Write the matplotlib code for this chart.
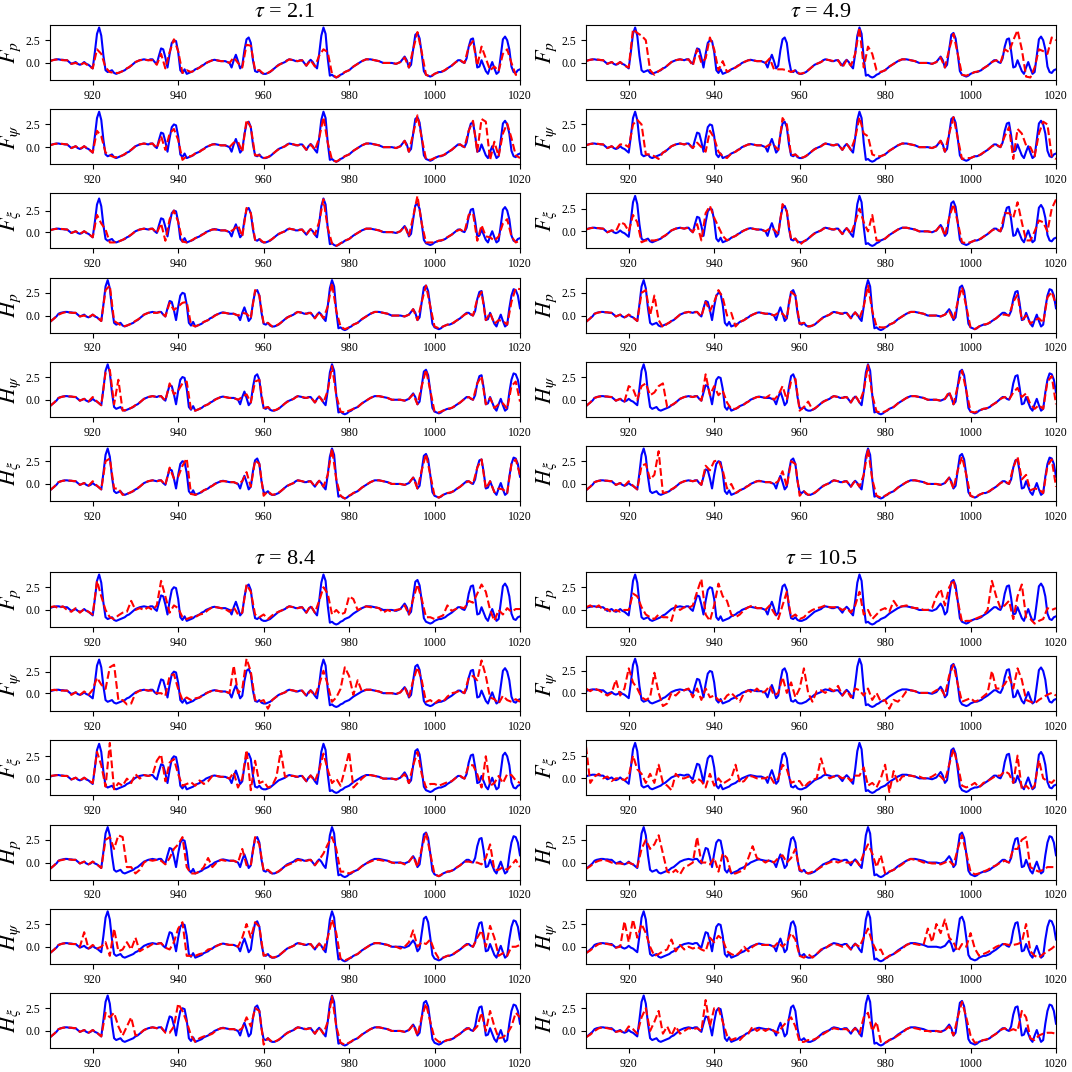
import numpy as np
import matplotlib
matplotlib.use('Agg')
import matplotlib.pyplot as plt
from matplotlib.ticker import MultipleLocator

plt.rcParams['font.family'] = 'serif'
plt.rcParams['font.serif'] = ['Liberation Serif', 'DejaVu Serif']
plt.rcParams['mathtext.fontset'] = 'stix'

# true signals, sampled every 0.5 from 910 to 1020
F_TRUE = [
    0.2, 0.3, 0.35, 0.4, 0.4, 0.35, 0.35, 0.3, 0.3, 0.1, -0.1, 0.0, 0.1, -0.1, -0.2, -0.1, 0.1, -0.1, -0.2, -0.4,
    -0.6, 1.2, 3.2, 3.9, 3.0, 0.8, -0.8, -1.0, -0.9, -0.8, -1.1, -1.2, -1.1, -1.0, -0.9, -0.8, -0.6, -0.5, -0.3, -0.1,
    0.1, 0.2, 0.3, 0.35, 0.4, 0.35, 0.3, 0.4, 0.4, 0.1, -0.1, 0.8, 1.6, 1.5, 0.6, -0.5, 1.0, 2.2, 2.5, 2.4,
    1.2, -0.8, -1.1, -0.7, -1.2, -1.1, -1.0, -0.9, -0.7, -0.6, -0.5, -0.3, -0.2, 0.0, 0.1, 0.2, 0.3, 0.35, 0.3, 0.25,
    0.2, 0.2, 0.2, 0.1, 0.0, -0.5, 0.3, 0.9, 0.2, -0.6, -0.3, 1.4, 2.6, 2.8, 2.2, 0.3, -0.9, -1.0, -0.8, -1.1,
    -1.2, -1.2, -1.1, -1.0, -0.8, -0.6, -0.4, -0.2, -0.1, 0.0, 0.1, 0.3, 0.4, 0.35, 0.3, 0.2, 0.2, 0.3, 0.3, 0.0,
    -0.3, 0.1, 0.35, 0.1, -0.3, -0.6, 1.0, 3.0, 3.9, 3.2, 0.5, -1.4, -1.3, -1.5, -1.6, -1.5, -1.3, -1.2, -1.0, -0.9,
    -0.8, -0.6, -0.4, -0.25, -0.1, 0.05, 0.2, 0.3, 0.4, 0.4, 0.4, 0.35, 0.3, 0.25, 0.2, 0.1, 0.0, 0.0, 0.0, 0.0,
    0.0, -0.05, -0.1, 0.0, 0.1, 0.4, 0.7, 0.3, -0.5, -0.2, 1.5, 3.1, 3.3, 2.7, 1.0, -0.9, -1.3, -1.4, -1.5, -1.4,
    -1.2, -1.1, -1.0, -1.0, -0.9, -0.8, -0.6, -0.45, -0.3, -0.1, 0.1, 0.3, 0.3, 0.1, 0.0, 0.5, 1.8, 2.6, 2.7, 1.3,
    -0.5, -0.4, 0.3, -0.3, -0.9, -1.2, -0.5, 0.1, -0.6, -1.2, -1.0, 0.8, 2.6, 2.9, 2.5, 1.5, -0.4, -1.0, -1.1, -0.8, -0.7,
]
H_TRUE = [
    -0.7, -0.5, -0.3, -0.1, 0.2, 0.3, 0.35, 0.4, 0.4, 0.35, 0.35, 0.3, 0.3, 0.1, -0.1, 0.0, 0.1, -0.1, -0.2, -0.1,
    0.1, -0.1, -0.2, -0.4, -0.6, 1.2, 3.2, 3.9, 3.0, 0.8, -0.8, -1.0, -0.9, -0.8, -1.1, -1.2, -1.1, -1.0, -0.9, -0.8,
    -0.6, -0.5, -0.3, -0.1, 0.1, 0.2, 0.3, 0.35, 0.4, 0.35, 0.3, 0.4, 0.4, 0.1, -0.1, 0.8, 1.6, 1.5, 0.6, -0.5,
    1.0, 2.2, 2.5, 2.4, 1.2, -0.8, -1.1, -0.7, -1.2, -1.1, -1.0, -0.9, -0.7, -0.6, -0.5, -0.3, -0.2, 0.0, 0.1, 0.2,
    0.3, 0.35, 0.3, 0.25, 0.2, 0.2, 0.2, 0.1, 0.0, -0.5, 0.3, 0.9, 0.2, -0.6, -0.3, 1.4, 2.6, 2.8, 2.2, 0.3,
    -0.9, -1.0, -0.8, -1.1, -1.2, -1.2, -1.1, -1.0, -0.8, -0.6, -0.4, -0.2, -0.1, 0.0, 0.1, 0.3, 0.4, 0.35, 0.3, 0.2,
    0.2, 0.3, 0.3, 0.0, -0.3, 0.1, 0.35, 0.1, -0.3, -0.6, 1.0, 3.0, 3.9, 3.2, 0.5, -1.4, -1.3, -1.5, -1.6, -1.5,
    -1.3, -1.2, -1.0, -0.9, -0.8, -0.6, -0.4, -0.25, -0.1, 0.05, 0.2, 0.3, 0.4, 0.4, 0.4, 0.35, 0.3, 0.25, 0.2, 0.1,
    0.0, 0.0, 0.0, 0.0, 0.0, -0.05, -0.1, 0.0, 0.1, 0.4, 0.7, 0.3, -0.5, -0.2, 1.5, 3.1, 3.3, 2.7, 1.0, -0.9,
    -1.3, -1.4, -1.5, -1.4, -1.2, -1.1, -1.0, -1.0, -0.9, -0.8, -0.6, -0.45, -0.3, -0.1, 0.1, 0.3, 0.3, 0.1, 0.0, 0.5,
    1.8, 2.6, 2.7, 1.3, -0.5, -0.4, 0.3, -0.3, -0.9, -1.2, -0.5, 0.1, -0.6, -1.2, -1.0, 0.8, 2.2, 2.9, 2.8, 2.2, 0.8,
]

# predictions, sampled every 1.0 from 910 to 1020
R21_FP = [
    0.2, 0.35, 0.4, 0.3, 0.3, -0.1, 0.0, -0.2, 0.0, -0.3,
    -0.6, 1.5, 1.0, -0.5, -1.0, -1.1, -1.1, -0.9, -0.6, -0.3,
    0.1, 0.3, 0.35, 0.3, 0.3, -0.2, 1.0, -0.6, 1.2, 2.6,
    1.3, -1.1, -0.8, -1.0, -0.8, -0.5, -0.2, 0.1, 0.3, 0.3,
    0.2, 0.2, 0.0, 0.6, 0.0, -0.5, 2.0, 1.9, -0.8, -0.8,
    -1.2, -1.1, -0.8, -0.4, -0.1, 0.1, 0.4, 0.3, 0.2, 0.3,
    -0.3, 0.3, -0.4, 0.8, 1.5, 1.2, -1.2, -1.6, -1.3, -1.0,
    -0.8, -0.4, -0.1, 0.2, 0.4, 0.4, 0.3, 0.2, 0.0, 0.0,
    0.0, -0.1, 0.1, 0.6, -0.5, 1.5, 3.4, 1.2, -1.3, -1.5,
    -1.2, -1.0, -0.9, -0.6, -0.3, 0.1, 0.3, 0.0, 1.8, 2.4,
    -0.3, 1.8, 0.5, -0.8, -0.4, -0.9, 1.0, 1.5, 0.0, -1.3, -1.4,
]
R21_FPSI = [
    0.2, 0.35, 0.4, 0.35, 0.3, -0.1, 0.1, -0.2, 0.1, -0.2,
    -0.6, 1.8, 1.2, -0.6, -0.9, -1.1, -1.1, -0.9, -0.6, -0.3,
    0.1, 0.3, 0.4, 0.3, 0.4, -0.1, 1.2, -0.3, 1.5, 2.0,
    0.8, -1.4, -1.0, -1.0, -0.7, -0.5, -0.2, 0.1, 0.3, 0.3,
    0.2, 0.2, 0.0, 0.5, 0.6, -0.5, 3.0, 2.2, -0.9, -0.9,
    -1.2, -1.1, -0.8, -0.4, -0.1, 0.1, 0.4, 0.3, 0.2, 0.3,
    -0.3, 0.3, -0.3, 1.0, 3.3, 0.5, -1.4, -1.6, -1.3, -1.0,
    -0.8, -0.4, -0.1, 0.2, 0.4, 0.4, 0.3, 0.2, 0.0, 0.0,
    0.0, -0.1, 0.1, 0.7, -0.5, 1.5, 3.5, 1.0, -1.3, -1.4,
    -1.2, -1.0, -0.9, -0.6, -0.3, 0.1, 0.3, 0.0, 1.8, 2.9,
    -0.5, 3.1, 2.8, -1.4, 0.6, -1.0, 1.5, 2.6, 1.0, -0.9, -1.2,
]
R21_FXI = [
    0.2, 0.35, 0.4, 0.35, 0.3, -0.1, 0.1, -0.2, 0.1, -0.2,
    -0.6, 2.0, 1.0, 0.3, -1.2, -1.2, -1.1, -0.9, -0.6, -0.3,
    0.1, 0.3, 0.4, 0.3, 0.4, -0.1, 1.0, -1.0, 1.5, 2.5,
    1.2, -1.1, -1.2, -1.0, -0.7, -0.5, -0.2, 0.1, 0.3, 0.3,
    0.2, 0.2, 0.0, 0.3, 0.8, -0.5, 2.8, 2.2, -0.9, -0.8,
    -1.2, -1.1, -0.8, -0.4, -0.1, 0.1, 0.4, 0.3, 0.2, 0.3,
    -0.3, 0.35, -0.3, 1.2, 3.8, 0.5, -1.3, -1.6, -1.3, -1.0,
    -0.8, -0.4, -0.1, 0.2, 0.4, 0.4, 0.3, 0.2, 0.0, 0.0,
    0.0, -0.1, 0.1, 0.7, -0.5, 1.8, 4.2, 1.0, -1.2, -1.2,
    -1.2, -1.0, -0.9, -0.6, -0.3, 0.1, 0.3, 0.0, 2.0, 2.2,
    -1.0, 0.8, -0.5, -0.6, -1.0, -0.5, 1.0, 1.5, -0.5, -1.2, -1.0,
]
R21_HP = [
    -0.7, -0.3, 0.1, 0.3, 0.4, 0.3, 0.3, -0.1, 0.0, -0.2,
    0.1, -0.2, -0.6, 2.8, 3.3, -0.6, -0.9, -1.2, -1.1, -0.9,
    -0.6, -0.3, 0.1, 0.3, 0.3, 0.3, 0.4, -0.1, 1.4, 0.6,
    1.0, 1.4, 1.5, -1.0, -1.2, -1.0, -0.7, -0.5, -0.2, 0.1,
    0.3, 0.3, 0.2, 0.2, 0.0, 0.3, 0.2, -0.3, 2.8, 2.2,
    -0.9, -0.8, -1.2, -1.1, -0.8, -0.4, -0.1, 0.1, 0.4, 0.3,
    0.2, 0.3, -0.3, 0.35, -0.3, 1.0, 3.6, 0.5, -1.2, -1.5,
    -1.3, -1.0, -0.8, -0.4, -0.1, 0.2, 0.4, 0.4, 0.3, 0.2,
    0.0, 0.0, 0.0, -0.1, 0.1, 0.7, -0.5, 1.5, 3.3, 1.0,
    -1.2, -1.4, -1.2, -1.0, -0.9, -0.6, -0.3, 0.1, 0.3, 0.0,
    1.8, 2.6, -0.5, 0.3, -0.9, -0.5, -0.6, -1.0, 1.5, 3.0, 2.9,
]
R21_HPSI = [
    -0.7, -0.3, 0.2, 0.35, 0.4, 0.35, 0.3, -0.1, 0.1, -0.2,
    0.3, -0.2, -0.6, 3.0, 3.3, -0.5, 2.2, -1.2, -1.1, -0.9,
    -0.6, -0.3, 0.1, 0.3, 0.4, 0.3, 0.4, -0.1, 1.8, 0.6,
    1.0, 1.8, 2.0, -1.1, -1.2, -1.0, -0.7, -0.5, -0.2, 0.1,
    0.3, 0.3, 0.2, 0.2, 0.0, 0.3, 0.6, -0.3, 2.0, 2.2,
    -0.9, -0.8, -1.2, -1.1, -0.8, -0.4, -0.1, 0.1, 0.4, 0.3,
    0.2, 0.3, -0.3, 0.35, -0.3, 1.0, 3.7, 0.5, -1.3, -1.4,
    -1.2, -1.0, -0.8, -0.4, -0.1, 0.2, 0.4, 0.4, 0.3, 0.2,
    0.0, 0.0, 0.0, -0.1, 0.1, 0.6, -0.5, 1.5, 3.3, 1.0,
    -1.3, -1.4, -1.2, -1.0, -0.9, -0.6, -0.3, 0.1, 0.3, 0.0,
    1.8, 2.6, -0.5, 0.2, -0.9, -0.5, -0.4, -1.0, 1.5, 2.0, -0.2,
]
R21_HXI = [
    -0.7, -0.3, 0.2, 0.35, 0.4, 0.35, 0.3, -0.1, 0.1, -0.2,
    0.3, -0.2, -0.6, 2.5, 2.8, -0.5, -0.5, -1.2, -1.1, -0.9,
    -0.6, -0.3, 0.1, 0.3, 0.4, 0.3, 0.4, -0.1, 1.8, 0.6,
    0.8, 2.0, 2.8, -1.1, -1.2, -1.0, -0.7, -0.5, -0.2, 0.1,
    0.3, 0.3, 0.2, 0.2, 0.0, 0.3, 1.3, -0.3, 2.6, 2.2,
    -1.3, -0.8, -1.2, -1.1, -0.8, -0.4, -0.1, 0.1, 0.4, 0.3,
    0.2, 0.3, -0.3, 0.35, -0.3, 1.0, 3.9, 0.5, -1.3, -1.6,
    -1.3, -1.0, -0.8, -0.4, -0.1, 0.2, 0.4, 0.4, 0.3, 0.2,
    0.0, 0.0, 0.0, -0.1, 0.1, 0.7, -0.5, 1.5, 3.3, 1.0,
    -1.3, -1.5, -1.2, -1.0, -0.9, -0.6, -0.3, 0.1, 0.3, 0.0,
    1.8, 2.7, -0.5, 0.3, -0.9, -0.5, -0.6, -1.0, 2.2, 2.7, 1.0,
]

R49_FP = [
    0.2, 0.35, 0.4, 0.35, 0.3, -0.1, 0.1, -0.2, 0.1, -0.3,
    -0.5, 3.7, 3.3, 3.0, 2.5, -0.8, -1.3, -0.9, -0.6, -0.3,
    0.1, 0.3, 0.4, 0.3, 0.4, -0.3, 1.5, 0.0, 0.5, 2.8,
    1.5, -0.8, 0.2, -1.0, -0.7, -0.5, -0.2, 0.1, 0.3, 0.3,
    0.2, 0.2, 0.0, 0.5, -0.7, -0.7, -0.7, -0.8, -1.0, -0.8,
    -1.2, -1.1, -0.8, -0.4, -0.1, 0.1, 0.4, 0.3, 0.2, 0.3,
    -0.5, 0.3, -0.3, 1.0, 3.9, -0.5, 1.8, 1.0, -0.8, -1.0,
    -0.8, -0.4, -0.1, 0.2, 0.4, 0.4, 0.3, 0.2, 0.0, 0.0,
    0.0, -0.1, 0.1, 0.6, -0.5, 1.5, 3.2, 1.0, -1.3, -1.4,
    -1.2, -1.0, -0.9, -0.6, -0.3, 0.1, 0.3, 0.0, 1.5, 1.2,
    2.5, 3.6, 1.5, -1.5, -1.6, -0.5, 1.5, 1.3, 1.0, 2.8, 2.5,
]
R49_FPSI = [
    0.2, 0.35, 0.4, 0.35, 0.3, -0.1, 0.1, -0.2, 0.3, 0.3,
    0.0, 2.5, 3.0, 2.5, -0.8, -0.8, -1.0, -1.3, -0.6, -0.3,
    0.1, 0.3, 0.4, 0.3, 0.4, -0.1, 0.5, 0.0, -0.5, 1.8,
    1.0, -0.5, -1.0, -1.2, -0.7, -0.5, -0.2, 0.1, 0.3, 0.3,
    0.2, 0.2, 0.0, 0.3, 0.2, -0.3, 3.2, 2.5, -0.9, -0.8,
    -1.2, -1.1, -0.8, -0.4, -0.1, 0.1, 0.4, 0.3, 0.2, 0.3,
    -0.3, 0.35, -0.3, 1.0, 3.3, 1.5, 1.2, -0.8, -1.0, -1.0,
    -0.8, -0.4, -0.1, 0.2, 0.4, 0.4, 0.3, 0.2, 0.0, 0.0,
    0.0, -0.1, 0.1, 0.7, -0.5, 1.5, 3.3, 1.0, -1.3, -1.2,
    -1.2, -1.0, -0.9, -0.6, -0.3, 0.1, 0.3, 0.0, 1.2, 2.2,
    -1.3, 2.0, 1.5, 0.2, 0.0, -1.0, 1.5, 2.8, 2.5, -1.0, -1.3,
]
R49_FXI = [
    0.2, 0.35, 0.4, 0.35, 0.3, -0.1, 0.1, 0.0, 1.0, 0.8,
    0.0, 1.8, 1.0, -1.2, -1.0, -1.0, -1.0, -0.9, -0.6, -0.3,
    0.1, 0.3, 0.4, 0.3, 0.4, -0.1, 0.8, -1.0, 2.0, 2.8,
    1.5, 0.5, -0.5, -1.0, -0.7, -0.5, -0.2, 0.1, 0.3, 0.3,
    0.2, 0.2, 0.0, 0.3, 0.2, -0.3, 3.0, 2.2, -0.9, -0.8,
    -1.5, -1.1, -0.8, -0.4, -0.1, 0.1, 0.4, 0.3, 0.2, 0.3,
    -0.3, 0.35, -0.3, 1.0, 2.5, 1.0, 0.0, 1.8, -1.0, -1.0,
    -0.8, -0.4, -0.1, 0.2, 0.4, 0.4, 0.3, 0.2, 0.0, 0.0,
    0.0, -0.1, 0.1, 0.7, -0.5, 1.5, 3.0, 1.0, -1.2, -1.3,
    -1.2, -1.0, -0.9, -0.6, -0.3, 0.1, 0.3, 0.0, 2.0, 2.0,
    1.5, 3.2, 1.0, -1.0, -1.0, 0.0, 1.2, 1.0, 0.0, 2.5, 3.5,
]
R49_HP = [
    -0.7, -0.3, 0.2, 0.35, 0.4, 0.35, 0.3, -0.1, 0.1, -0.2,
    0.1, -0.2, -0.6, 2.5, 2.8, 0.0, 2.2, -0.5, -1.3, -0.9,
    -0.6, -0.3, 0.1, 0.3, 0.4, 0.3, 0.4, -0.1, 1.5, 0.5,
    1.5, 2.8, 2.0, 0.0, 0.3, -1.2, -0.7, -0.5, -0.2, 0.1,
    0.3, 0.3, 0.2, 0.2, 0.0, 0.3, 0.2, -0.3, 2.6, 2.2,
    -0.9, -0.8, -1.2, -1.1, -0.8, -0.4, -0.1, 0.1, 0.4, 0.3,
    0.2, 0.3, -0.3, 0.35, -0.3, 1.0, 3.3, 0.5, -1.2, -1.3,
    -1.3, -1.0, -0.8, -0.4, -0.1, 0.2, 0.4, 0.4, 0.3, 0.2,
    0.0, 0.0, 0.0, -0.1, 0.1, 0.5, -0.5, 1.5, 3.1, 1.0,
    -1.3, -1.5, -1.2, -1.0, -0.9, -0.6, -0.3, 0.1, 0.1, 0.0,
    1.5, 2.3, -0.5, 0.0, -0.9, -0.5, -0.3, -0.8, 2.0, 2.6, 1.2,
]
R49_HPSI = [
    -0.7, -0.3, 0.2, 0.35, 0.4, 0.35, 0.3, -0.1, 0.1, -0.2,
    1.5, 1.2, 0.0, 1.5, 1.8, 0.5, 0.8, 1.5, 1.8, -0.8,
    -0.6, -0.3, 0.1, 0.3, 0.4, 0.3, 0.4, -0.1, 2.8, 0.5,
    1.5, 0.5, 1.0, -0.3, -1.0, -1.0, -0.7, -0.5, -0.2, 0.1,
    0.3, 0.3, 0.2, 0.5, 0.0, 0.5, 1.5, 0.0, 2.0, 2.3,
    -1.2, -0.8, -0.2, -1.1, -0.8, -0.4, -0.1, 0.1, 0.4, 0.3,
    0.2, 0.3, -0.3, 0.5, -0.3, 1.0, 3.8, 0.5, -1.3, -1.4,
    -1.3, -1.0, -0.8, -0.4, -0.1, 0.2, 0.4, 0.4, 0.3, 0.2,
    0.0, 0.0, 0.0, -0.1, 0.1, 0.9, -0.5, 1.5, 3.2, 1.0,
    -1.3, -1.4, -1.2, -1.0, -0.9, -0.6, -0.3, 0.1, 0.3, 0.0,
    0.8, 1.3, 0.3, 0.7, -0.5, -1.0, -0.6, -1.0, 2.0, 2.6, -0.5,
]
R49_HXI = [
    -0.7, -0.3, 0.2, 0.35, 0.4, 0.35, 0.3, -0.1, 0.1, -0.2,
    0.3, -0.2, -0.6, 2.0, 2.2, 0.5, 1.0, 3.6, -1.0, -0.9,
    -0.6, -0.3, 0.1, 0.3, 0.4, 0.3, 0.4, -0.1, 2.0, 1.5,
    2.5, 2.6, 1.5, -0.5, 0.0, -1.0, -0.7, -0.5, -0.2, 0.1,
    0.3, 0.3, 0.2, 0.2, 0.0, 0.3, 1.4, -0.3, 2.5, 2.2,
    -1.3, -0.8, -1.2, -1.1, -0.8, -0.4, -0.1, 0.1, 0.4, 0.3,
    0.2, 0.3, -0.3, 0.35, -0.3, 1.0, 3.9, 0.5, -1.3, -1.5,
    -1.3, -1.0, -0.8, -0.4, -0.1, 0.2, 0.4, 0.4, 0.3, 0.2,
    0.0, 0.0, 0.0, -0.1, 0.1, 0.7, -0.5, 1.5, 3.0, 1.0,
    -1.3, -1.5, -1.2, -1.0, -0.9, -0.6, -0.3, 0.1, 0.3, 0.0,
    1.8, 3.0, 0.5, 1.0, -0.7, -0.5, -0.6, -1.0, 2.0, 2.7, -0.3,
]

R84_FP = [
    0.3, 0.4, 0.2, 0.4, 0.0, -0.2, 0.2, -0.3, 0.1, -0.2,
    -0.5, 3.2, 1.5, 0.0, -0.8, -1.0, -0.6, -0.3, -0.2, 1.0,
    0.0, 0.2, 0.0, 0.3, 0.0, 0.5, 3.2, 1.5, -0.3, 0.5,
    0.2, -0.8, -1.0, -0.8, -0.8, -0.5, -0.4, 0.0, 0.3, 0.3,
    0.2, 0.1, -0.2, 0.3, -0.5, -0.3, 2.8, 2.0, -0.5, -0.8,
    -0.5, -1.0, -0.6, -0.3, -0.1, 0.1, 0.4, 0.3, 0.2, 0.3,
    -0.3, 0.5, -0.3, 1.0, 2.5, 1.8, -0.5, 0.0, -0.5, -0.3,
    1.5, 1.2, 0.0, 0.2, 0.4, 0.3, 0.3, 0.2, -0.3, 0.0,
    -0.2, 0.0, 0.1, 0.5, -0.5, 1.2, 2.8, 1.2, -0.8, -0.8,
    -1.0, -0.8, -0.6, 0.5, -0.1, 0.1, 0.3, 0.2, 1.0, 0.8,
    1.8, 2.8, 2.0, 0.0, -1.2, 0.0, -0.5, 0.2, -0.2, 0.1, 0.1,
]
R84_FPSI = [
    0.3, 0.4, 0.3, 0.3, 0.3, -0.2, 0.1, -0.2, 0.2, -0.2,
    0.4, 1.8, 1.0, 0.5, 3.0, 3.3, -0.8, -0.8, -1.3, -1.2,
    0.0, 0.3, 0.4, 0.3, 0.3, 0.0, 0.0, -0.3, 2.0, 2.2,
    0.5, -0.8, -0.5, -0.8, -0.6, -0.5, -0.2, 0.1, 0.3, 0.3,
    0.2, 0.2, 0.0, 3.2, 0.0, 0.5, 4.0, 2.5, -0.8, -1.0,
    -0.8, -1.8, -0.8, -0.4, -0.1, 0.1, 0.4, 0.3, 0.2, 0.3,
    -0.3, 0.3, -0.3, 1.0, 2.6, 1.0, -1.0, -0.5, 0.5, 3.0,
    2.0, -0.2, 1.5, 0.2, 0.4, 0.4, 0.3, 0.2, 0.0, 0.0,
    0.0, -0.1, 0.1, 0.7, -0.5, 1.5, 3.0, 1.5, -1.0, -0.8,
    -1.2, -0.8, -1.0, -0.4, 0.0, 0.1, 0.3, 0.0, 1.8, 2.0,
    1.5, 3.8, 2.0, -0.5, -0.7, -1.2, -0.3, -0.8, -1.0, -0.7, -1.0,
]
R84_FXI = [
    0.3, 0.35, 0.4, 0.3, 0.3, -0.1, 0.1, -0.2, 0.1, -0.2,
    -0.5, 3.0, 1.5, -0.9, 4.0, -1.2, -0.5, -0.8, 0.0, -0.5,
    0.5, 0.0, 0.4, 0.3, 0.4, 2.0, 2.7, -0.3, 1.8, 2.2,
    0.5, -0.8, -0.6, -0.4, -0.8, -0.2, -0.6, -0.3, 0.3, 0.3,
    0.2, 0.2, 0.0, 0.7, -1.0, 0.0, 3.2, -1.3, 2.0, -0.5,
    -0.3, -1.0, -0.8, 0.2, 3.1, 0.2, 0.3, 0.3, 0.2, 0.3,
    -0.3, 0.35, -0.3, 1.0, 2.8, 1.0, -0.5, 0.0, -0.8, 1.0,
    3.0, -1.0, -0.5, 0.0, 0.4, 0.4, 0.3, 0.2, 0.0, 0.0,
    0.0, -0.1, 0.1, 0.5, -0.5, 1.5, 3.0, 0.5, -1.0, -0.6,
    -0.6, -0.8, -0.6, -0.4, -0.3, 0.1, 0.3, 0.0, 1.5, 1.5,
    0.5, -1.0, 2.5, -0.8, -0.5, 0.3, -0.5, 0.5, 0.4, -0.2, -0.5,
]
R84_HP = [
    -0.7, -0.3, 0.2, 0.3, 0.4, 0.3, 0.3, -0.1, 0.1, -0.2,
    0.1, -0.2, -0.6, 2.5, 2.8, 1.5, 3.0, 2.8, -0.5, -0.5,
    -1.2, -0.8, 0.0, 0.3, 0.2, 0.3, 0.2, -0.2, 0.5, 1.5,
    2.0, 2.8, -0.5, -1.2, -1.2, -1.0, -0.5, 0.5, -0.5, 0.0,
    0.3, 0.2, 0.2, 0.2, 0.0, 1.5, -0.3, -0.3, 2.8, 2.0,
    -0.9, -0.8, -1.2, -1.1, -0.8, -0.4, -0.2, 0.0, 0.3, 0.2,
    0.2, 0.3, -0.3, 0.3, 1.0, 2.0, 2.8, 1.5, -1.0, -1.0,
    -1.2, -1.0, -0.8, -0.4, -0.1, 0.1, 0.3, 0.3, 0.2, 0.2,
    0.0, -0.1, 0.0, -0.2, 0.1, 0.7, -0.5, 1.5, 3.3, 1.0,
    -1.3, -1.5, -1.2, -1.0, -0.9, -0.6, -0.3, 0.1, 0.1, 0.0,
    0.0, -0.2, 0.5, 2.0, -0.8, -0.8, -0.5, -0.8, -0.3, 0.3, -0.5,
]
R84_HPSI = [
    -0.7, -0.3, 0.2, 0.35, 0.4, 0.3, 0.3, 0.0, 1.6, -0.2,
    0.2, -0.2, 0.0, 0.5, -1.0, 2.0, -0.5, -0.3, 0.5, -0.3,
    1.0, -0.5, -0.2, 0.0, 0.3, 0.3, 0.4, -0.1, -0.3, 0.5,
    2.0, 2.7, -1.0, -1.0, -1.0, -0.8, -0.7, -0.3, -0.2, 0.1,
    0.3, 0.3, 0.2, 0.2, 0.0, 1.0, 2.5, 1.0, 2.7, 2.2,
    -1.0, -0.8, -1.2, -1.1, -0.8, -0.4, -0.1, 0.1, 0.4, 0.3,
    0.2, 0.3, -0.3, 0.35, -0.3, 1.0, 3.0, 1.5, -1.3, -1.5,
    -1.3, -1.0, -0.8, -0.4, -0.1, 0.2, 0.4, 0.4, 0.3, 0.2,
    0.0, 0.0, -0.2, 0.0, 0.5, 1.8, 0.0, 0.5, 0.3, 0.8,
    -0.5, -1.3, -1.2, -1.0, -0.9, -0.6, -0.3, 0.1, 0.3, 0.0,
    1.0, 1.8, 0.0, 2.3, 1.0, -1.0, -0.7, -1.0, 0.0, 0.0, 0.2,
]
R84_HXI = [
    -0.7, -0.3, 0.2, 0.35, 0.4, 0.35, 0.3, -0.1, 0.1, -0.2,
    0.1, -0.2, -0.6, 2.0, 1.5, 2.0, 0.5, -0.5, 0.5, 1.5,
    -0.5, -0.3, 0.1, 0.3, 0.4, 0.3, 0.4, -0.2, -0.2, 0.5,
    3.0, 2.2, 1.0, -0.5, -1.2, -0.8, -0.6, -0.5, -0.3, 0.1,
    0.3, 0.3, 0.2, 0.2, 0.0, 0.3, 1.5, 0.5, 2.5, 2.2,
    -1.5, -0.8, -1.2, -1.1, -0.8, -0.4, -0.1, 0.1, 0.4, 0.3,
    0.2, 0.3, -0.3, 0.35, -0.3, 1.0, 3.8, 0.5, -1.3, -1.5,
    -1.3, -1.0, -0.8, -0.4, -0.1, 0.2, 0.4, 0.4, 0.3, 0.2,
    0.0, 0.0, 0.0, -0.1, 0.1, 0.7, -0.5, 1.5, 3.0, 1.0,
    -0.8, -1.2, -1.2, -1.0, -0.9, -0.6, -0.3, 0.1, 0.3, 0.0,
    0.5, 2.0, 0.0, 2.2, 0.5, -0.8, -0.7, -0.3, 0.5, 2.0, 1.5,
]

R105_FP = [
    0.3, 0.5, 0.2, 0.5, 0.0, 0.1, -0.3, 0.0, -0.2, 0.0,
    0.0, 1.8, 1.5, 0.3, -0.5, -0.8, -1.0, -0.5, -0.8, -0.8,
    -1.2, 0.5, 0.0, 0.3, 0.2, 0.5, 2.0, 3.4, -0.5, -1.2,
    0.5, 2.9, 1.5, 1.0, -0.5, -0.8, -0.5, 0.0, 0.3, 0.5,
    0.2, 0.2, 0.0, 0.5, -0.3, -1.0, 0.5, 2.0, -0.8, -0.5,
    -1.0, -0.8, -0.3, 0.0, 0.2, 0.3, 0.5, 0.3, 0.3, 0.3,
    0.0, 0.2, -0.3, 0.5, 2.0, -0.5, 0.0, -1.0, -0.5, 0.0,
    0.2, -0.2, 1.0, 0.3, 0.4, 0.5, 0.3, 0.2, 0.2, 0.0,
    0.0, 0.2, 1.5, 2.3, 0.5, 2.5, 3.3, 1.0, -1.3, -1.2,
    -1.2, -1.0, -0.8, -0.6, 0.0, 3.2, 1.5, 0.2, 0.5, 1.0,
    -1.0, 1.5, 2.8, -0.8, -1.0, -1.5, -1.2, -1.0, 0.2, 0.0, 0.2,
]
R105_FPSI = [
    0.5, 0.2, 0.5, 0.3, 0.0, -0.3, 0.0, 1.5, -0.3, 0.5,
    2.8, 1.2, 0.5, -0.5, -0.8, -0.5, 2.3, 0.0, -1.5, -1.2,
    0.0, -0.3, 0.2, 0.3, 0.5, -0.5, 0.5, -0.8, 0.5, -0.5,
    -0.3, -0.8, -1.0, -0.3, 0.0, -0.5, -1.0, 0.0, 0.3, 0.0,
    0.5, 0.0, 0.2, 0.8, -0.3, 0.0, 1.8, 0.0, 1.2, -0.5,
    0.5, 2.8, 0.0, -1.0, 0.2, 0.3, 0.0, 0.5, 0.2, 0.8,
    -0.3, 0.3, -0.5, 0.5, 0.3, -0.3, 0.5, -0.8, 0.0, -1.0,
    -0.8, -1.8, -0.8, -1.0, -0.5, 0.2, 0.3, 0.2, 0.0, 0.0,
    0.0, 0.0, 0.3, 0.5, -0.3, 2.0, 3.2, 1.0, -1.0, -0.8,
    -0.6, -1.0, -0.8, -0.4, 0.0, 2.5, 0.5, 0.5, 1.0, 1.8,
    0.5, 2.8, 1.5, -0.8, -1.0, -1.2, -0.8, -0.5, -0.2, 0.0, -0.3,
]
R105_FXI = [
    3.5, -0.5, 0.2, 0.5, 0.0, 0.2, -0.3, 0.0, 0.0, -0.2,
    0.2, 2.5, 1.0, 0.5, -0.5, 0.5, -0.5, 1.5, -0.5, -0.8,
    -1.3, 0.5, 0.0, 0.0, 0.2, -0.5, 0.0, -0.3, -1.0, 0.5,
    -0.8, 0.0, -0.6, -0.3, 0.0, 1.5, -0.5, -0.3, 0.3, 0.2,
    0.0, 0.0, 0.0, 0.3, -0.5, 0.0, 1.5, 1.0, -0.5, -0.3,
    -0.3, -1.0, -0.5, -0.2, 0.0, 2.2, 0.5, 0.0, 0.2, 0.3,
    0.0, 0.2, -0.3, 0.3, 0.3, 1.2, -0.8, -0.5, -1.0, 0.0,
    1.5, -1.5, 0.8, -0.5, 0.2, 0.3, 0.3, 0.2, 0.2, 0.0,
    0.0, 0.2, 0.5, 0.2, -0.3, 1.5, 3.2, 1.5, -0.8, -1.0,
    -0.8, -0.5, -1.0, -0.5, -0.3, 0.0, 0.3, 0.3, 0.8, 0.5,
    -0.5, 2.5, -1.2, -0.8, -1.3, -0.8, 2.0, 0.0, -0.3, -0.5, 0.0,
]
R105_HP = [
    -0.7, -0.4, 0.0, 0.2, 0.3, 0.2, 0.0, -0.1, -0.1, -0.2,
    0.0, -0.2, -0.5, 1.5, 2.5, 1.5, 2.0, 3.0, 1.0, -1.0,
    -1.2, -0.8, -1.3, -0.5, -0.3, 0.0, 2.8, 0.0, 0.0, -0.2,
    0.5, -1.0, 1.0, 0.5, -1.2, -1.2, -1.0, -0.8, 0.5, 1.8,
    0.5, 0.3, 0.0, 0.3, 0.0, 0.5, 0.8, 0.0, 0.5, 1.5,
    -0.8, -1.0, -1.2, -1.0, -0.8, -0.5, -0.2, 0.0, 0.2, 0.0,
    0.2, 0.0, 0.0, 0.3, -0.3, 1.0, 2.0, 1.0, -0.5, 0.8,
    -1.2, -1.0, -0.8, -0.5, -0.2, 0.2, 0.4, 0.3, 0.2, 0.0,
    0.0, -0.1, -0.1, -0.2, 0.0, 0.2, -0.3, 1.5, 3.0, 1.0,
    -1.0, -1.3, -1.2, -1.0, -0.8, -0.5, -0.3, 0.0, 0.2, 0.0,
    1.5, 1.5, 2.5, 2.8, -0.5, -0.8, -1.0, -0.8, -0.5, -0.5, -0.5,
]
R105_HPSI = [
    -0.7, -0.4, 0.0, 0.3, 0.4, 0.3, 0.2, -0.1, 0.0, 2.8,
    0.5, 3.0, 1.0, 2.5, 1.5, 0.0, -1.0, -0.8, -0.5, -0.3,
    0.8, -0.5, 0.2, -0.3, 0.0, -0.2, 0.0, -0.3, -0.5, 1.0,
    0.5, 1.2, 0.8, -0.5, -0.8, -1.0, -0.6, 0.0, -0.5, 0.0,
    0.3, 0.2, 0.2, 0.2, 0.0, 0.5, 0.0, 0.5, 1.5, 0.8,
    -1.0, -1.2, -0.8, -1.2, -0.8, -0.3, -0.2, 0.2, 0.3, 0.2,
    0.0, 0.2, -0.3, 0.3, 0.0, 1.0, 2.0, 0.5, -0.5, -0.3,
    -1.3, -1.0, -0.8, -0.5, -0.2, 0.2, 0.4, 0.3, 0.2, 0.2,
    2.0, 0.5, 2.5, 1.5, 3.0, 1.0, 0.5, -0.5, 0.3, 0.0,
    1.5, -0.2, -1.0, -0.8, -0.6, -0.3, 0.0, 0.2, 0.3, 0.2,
    0.2, 0.3, 0.5, 2.5, -0.5, -1.0, -1.2, -0.8, -0.5, -0.2, 0.2,
]
R105_HXI = [
    -0.7, -0.4, 0.0, 0.3, 0.4, 0.3, 0.2, -0.1, 0.0, -0.2,
    0.5, 0.2, -0.3, 1.5, 2.5, 0.0, 1.0, 2.2, -0.3, 0.5,
    -0.5, 0.5, -0.3, 0.0, 0.3, 0.2, 0.3, 0.0, 3.4, 0.5,
    2.5, 2.5, 1.0, -0.5, -1.0, -0.8, -1.0, -0.5, -0.3, 0.5,
    0.0, 0.3, 0.0, 0.3, 0.0, -0.2, 0.5, 1.0, 1.5, 0.5,
    -1.2, -1.2, -1.0, -1.0, -0.8, -0.5, -0.2, 0.1, 0.3, 0.2,
    0.2, 0.2, -0.2, 0.3, -0.3, 1.5, 2.0, 0.0, 1.0, -1.2,
    -1.3, -1.0, -0.8, -0.5, -0.2, 0.2, 0.4, 0.3, 0.2, 0.0,
    0.0, -0.1, 0.0, -0.1, 0.1, 0.5, -0.5, 1.5, 3.2, 1.5,
    -0.5, -1.3, -1.2, -1.0, -0.9, -0.6, -0.3, 0.1, 0.3, 0.0,
    0.2, 0.0, 2.2, 1.5, -0.8, -1.0, -0.5, -0.3, -0.2, -0.2, -0.3,
]

ROW_LABELS = [r'$F_p$', r'$F_\psi$', r'$F_\xi$', r'$H_p$', r'$H_\psi$', r'$H_\xi$']
TAUS = ['2.1', '4.9', '8.4', '10.5']
PRED = {
    '2.1': [R21_FP, R21_FPSI, R21_FXI, R21_HP, R21_HPSI, R21_HXI],
    '4.9': [R49_FP, R49_FPSI, R49_FXI, R49_HP, R49_HPSI, R49_HXI],
    '8.4': [R84_FP, R84_FPSI, R84_FXI, R84_HP, R84_HPSI, R84_HXI],
    '10.5': [R105_FP, R105_FPSI, R105_FXI, R105_HP, R105_HPSI, R105_HXI],
}

t_true = np.arange(910, 1020.25, 0.5)
t_pred = np.arange(910, 1021)

fig = plt.figure(figsize=(10.72, 10.72), dpi=100)
W = H = 1072.0
col_left = [50, 586]
group_top = [25, 572]
pitch = 84.2
ph = 55
pw = 470

for k, tau in enumerate(TAUS):
    g, c = divmod(k, 2)
    for r in range(6):
        top = group_top[g] + r * pitch
        ax = fig.add_axes([col_left[c] / W, 1 - (top + ph) / H, pw / W, ph / H])
        truth = F_TRUE if r < 3 else H_TRUE
        ax.plot(t_true, truth, color='b', lw=1.5)
        ax.plot(t_pred, PRED[tau][r], color='r', ls='--', lw=1.5)
        ax.set_xlim(910, 1020)
        ax.set_xticks([920, 940, 960, 980, 1000, 1020])
        ax.yaxis.set_major_locator(MultipleLocator(2.5))
        ax.tick_params(labelsize=8.5)
        ax.set_ylabel(ROW_LABELS[r], fontsize=16)
        ax.yaxis.set_label_coords(-0.058, 0.5)
        if r == 0:
            ax.set_title(r'$\tau$ = ' + tau, fontsize=16)

fig.savefig('out.png', dpi=100)
